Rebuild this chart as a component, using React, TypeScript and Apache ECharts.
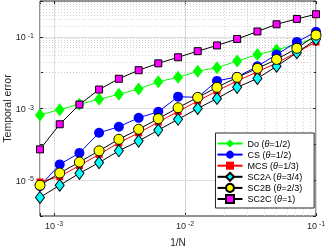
import React, { useEffect, useRef } from 'react';
import * as echarts from 'echarts';

// Grid sizes N; the x value is 1/N
const N = [1280, 905, 640, 453, 320, 226, 160, 113, 80, 57, 40, 28, 20, 14, 10];

const doErr = [6.6e-4, 9.3e-4, 1.32e-3, 1.82e-3, 2.5e-3, 3.5e-3, 5.6e-3, 7.4e-3, 1.1e-2, 1.38e-2, 2.1e-2, 3.2e-2, 4.3e-2, 6.3e-2, 9.3e-2];
const csErr = [6.9e-6, 2.75e-5, 5.75e-5, 2.1e-4, 3.1e-4, 5.5e-4, 8.1e-4, 2.14e-3, 2.04e-3, 5.9e-3, 7.6e-3, 1.51e-2, 3.2e-2, 7.2e-2, 0.138];
const mcsErr = [8.9e-6, 1.26e-5, 2.57e-5, 5.25e-5, 1.1e-4, 2.09e-4, 4.17e-4, 8.3e-4, 1.62e-3, 3.09e-3, 5.9e-3, 1.05e-2, 1.86e-2, 3.7e-2, 7.2e-2];
const sc2aErr = [3.3e-6, 7.2e-6, 1.55e-5, 3.1e-5, 6.6e-5, 1.23e-4, 2.5e-4, 5.0e-4, 1.0e-3, 1.9e-3, 3.9e-3, 6.9e-3, 1.51e-2, 3.6e-2, 8.5e-2];
const sc2bErr = [7.2e-6, 1.58e-5, 3.2e-5, 6.6e-5, 1.38e-4, 2.63e-4, 5.2e-4, 1.05e-3, 2.04e-3, 3.9e-3, 7.4e-3, 1.32e-2, 2.34e-2, 4.8e-2, 0.112];
const sc2cErr = [7.24e-5, 3.63e-4, 1.29e-3, 3.39e-3, 6.76e-3, 1.17e-2, 1.82e-2, 2.69e-2, 3.98e-2, 5.75e-2, 8.71e-2, 0.141, 0.224, 0.316, 0.427];

const seriesNames = ['Do', 'CS', 'MCS', 'SC2A', 'SC2B', 'SC2C'];
const thetaLabels = ['1/2', '1/2', '1/3', '3/4', '2/3', '1'];

const xLabelExps = [-3, -2, -1];
const yLabelExps = [-5, -3, -1];

const X_MIN = 1 / 1280;
const X_MAX = 0.1;
const Y_MIN = 1e-6;
const Y_MAX = 1;

const FONT = '"Liberation Sans", Arial, Helvetica, sans-serif';
const AX = '#262626';
const MAJOR = '#dedede';
const MINOR = '#c8c8c8';

function minorValues(lo: number, hi: number, skipExps: number[]): number[] {
  const out: number[] = [];
  for (let e = Math.floor(Math.log10(lo)) - 1; e <= Math.ceil(Math.log10(hi)); e++) {
    for (let m = 1; m <= 9; m++) {
      const v = m * Math.pow(10, e);
      if (m === 1 && !skipExps.includes(e)) continue;
      if (v > lo * 1.0001 && v < hi * 0.9999) out.push(v);
    }
  }
  return out;
}

function tickLabel(v: number, exps: number[]) {
  const l = Math.log10(v);
  const e = Math.round(l);
  if (Math.abs(l - e) > 1e-6 || !exps.includes(e)) return '';
  return `{b|10}{s|${e}}`;
}

const richTick = {
  b: { fontSize: 9, fontFamily: FONT, color: AX, lineHeight: 10, verticalAlign: 'bottom' as const },
  s: { fontSize: 7, fontFamily: FONT, color: AX, lineHeight: 7, verticalAlign: 'top' as const, padding: [0, 0, 0, 2] },
};

export default function App() {
  const ref = useRef<HTMLDivElement>(null);
  useEffect(() => {
    if (!ref.current) return;
    const chart = echarts.init(ref.current, undefined, { renderer: 'svg' });
    const xs = N.map((n) => 1 / n);
    const mk = (ys: number[]) => xs.map((x, i) => [x, ys[i]]);

    const yMinor = minorValues(Y_MIN, Y_MAX, [-4, -2]);
    const xMinor = minorValues(X_MIN, X_MAX, []);

    const styles = [
      { data: doErr, line: '#00ff00', fill: '#00ff00', border: '#00ff00', symbol: 'diamond', size: [10, 13] },
      { data: csErr, line: '#0000ff', fill: '#0000ff', border: '#0000ff', symbol: 'circle', size: 10 },
      { data: mcsErr, line: '#ff0000', fill: '#ff0000', border: '#ff0000', symbol: 'rect', size: 7 },
      { data: sc2aErr, line: '#000000', fill: '#00ffff', border: '#000000', symbol: 'diamond', size: [9, 12] },
      { data: sc2bErr, line: '#000000', fill: '#ffff00', border: '#000000', symbol: 'circle', size: 10 },
      { data: sc2cErr, line: '#000000', fill: '#ff00ff', border: '#000000', symbol: 'rect', size: 7 },
    ];

    const series: any[] = styles.map((s, i) => ({
      name: seriesNames[i],
      type: 'line',
      data: mk(s.data),
      symbol: s.symbol,
      symbolSize: s.size,
      lineStyle: { color: s.line, width: 1 },
      itemStyle: { color: s.fill, borderColor: s.border, borderWidth: s.border === s.fill ? 0 : 1 },
      z: 3,
      silent: true,
    }));

    series.push({
      name: '__grid',
      type: 'line',
      data: [[X_MIN, null]],
      symbol: 'none',
      silent: true,
      z: 1,
      markLine: {
        silent: true,
        z: 1,
        symbol: 'none',
        label: { show: false },
        lineStyle: { type: [1, 2], color: MINOR, width: 0.8 },
        emphasis: { disabled: true },
        animation: false,
        data: [
          ...yMinor.map((v) => ({ yAxis: v })),
          ...xMinor.map((v) => ({ xAxis: v })),
        ],
      },
    });

    const baseX = { type: 'log' as const, logBase: 10, min: X_MIN, max: X_MAX };
    const baseY = { type: 'log' as const, logBase: 10, min: Y_MIN, max: Y_MAX };

    chart.setOption({
      animation: false,
      textStyle: { fontFamily: FONT },
      grid: {
        left: 40,
        right: 11,
        top: 1,
        bottom: 32,
        show: true,
        borderColor: AX,
        borderWidth: 1,
        backgroundColor: '#fff',
        containLabel: false,
        outerBoundsMode: 'none',
      },
      legend: {
        data: seriesNames,
        orient: 'vertical',
        left: 215.5,
        top: 133,
        itemWidth: 25,
        itemHeight: 10,
        itemGap: 1.1,
        padding: [5.5, 12, 4, 1],
        backgroundColor: '#fff',
        borderColor: AX,
        borderWidth: 1,
        borderRadius: 0,
        selectedMode: false,
        textStyle: {
          fontSize: 9,
          lineHeight: 10,
          fontFamily: FONT,
          color: '#000',
          rich: { i: { fontStyle: 'italic', fontSize: 9, lineHeight: 10, fontFamily: FONT, color: '#000' } },
        },
        formatter: (name: string) => {
          const idx = seriesNames.indexOf(name);
          return `${name} ({i|θ}=${thetaLabels[idx]})`;
        },
      },
      xAxis: [
        {
          ...baseX,
          name: '1/N',
          nameLocation: 'middle',
          nameGap: 21,
          nameMoveOverlap: false,
          nameTextStyle: { fontSize: 10, color: AX, fontFamily: FONT },
          axisLine: { show: false },
          axisTick: { show: true, inside: true, length: 3, lineStyle: { color: AX } },
          axisLabel: {
            margin: 4,
            formatter: (v: number) => tickLabel(v, xLabelExps),
            rich: richTick,
          },
          splitLine: { show: true, lineStyle: { color: MAJOR, width: 1 } },
        },
        {
          ...baseX,
          position: 'top',
          axisLine: { show: false },
          axisTick: { show: true, inside: true, length: 3, lineStyle: { color: AX } },
          axisLabel: { show: false },
          splitLine: { show: false },
        },
      ],
      yAxis: [
        {
          ...baseY,
          name: 'Temporal error',
          nameLocation: 'middle',
          nameGap: 28,
          nameMoveOverlap: false,
          nameRotate: 90,
          nameTextStyle: { fontSize: 10.5, color: AX, fontFamily: FONT },
          axisLine: { show: false },
          axisTick: { show: true, inside: true, length: 3, lineStyle: { color: AX } },
          axisLabel: {
            margin: 6,
            formatter: (v: number) => tickLabel(v, yLabelExps),
            rich: richTick,
          },
          splitLine: { show: true, lineStyle: { color: ['rgba(0,0,0,0)', MAJOR], width: 1 } },
        },
        {
          ...baseY,
          position: 'right',
          axisLine: { show: false },
          axisTick: { show: true, inside: true, length: 3, lineStyle: { color: AX } },
          axisLabel: { show: false },
          splitLine: { show: false },
        },
      ],
      series,
    });
    return () => chart.dispose();
  }, []);
  return <div ref={ref} style={{ position: 'fixed', left: 0, top: 0, width: 327, height: 248 }} />;
}
